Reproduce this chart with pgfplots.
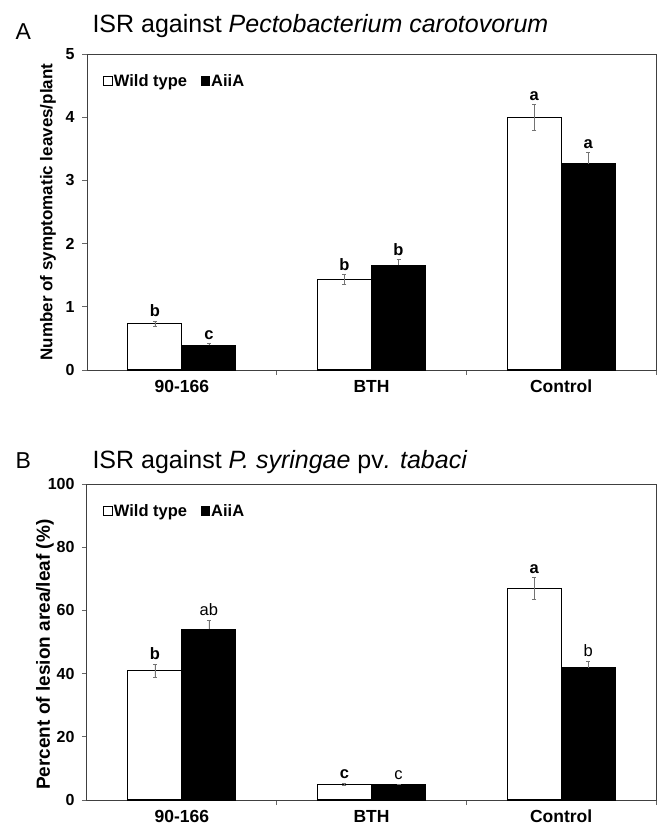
\documentclass[border=0pt]{standalone}
\usepackage{fontspec}
\setmainfont{Liberation Sans}
\usepackage{pgfplots}
\usepackage{pgfplotstable}
\pgfplotsset{compat=1.18}

\pgfplotstableread{
x wt wte wtl ai aie ail
0 0.73 0.04 b 0.39 0.03 c
1 1.43 0.08 b 1.66 0.09 b
2 4.00 0.20 a 3.26 0.18 a
}\dataA
\pgfplotstableread{
x wt wte wtl ai aie ail
0 41.0 2.1 b 54.0 2.9 ab
1 5.0 0.3 c 4.8 0.3 c
2 67.0 3.4 a 41.9 2.1 b
}\dataB

\pgfplotsset{
  panel/.style={
    scale only axis, width=569pt, height=316pt,
    xmin=-0.5, xmax=2.5, ymin=0,
    axis line style={line width=1pt, black!75},
    tick align=outside,
    xtick={0.5,1.5,2.5}, xticklabels={},
    xtick pos=bottom, ytick pos=left,
    major tick length=5pt,
    tick style={black!60, line width=0.7pt},
    extra x ticks={0,1,2},
    extra x tick labels={90-166,BTH,Control},
    extra x tick style={major tick length=0pt, xticklabel style={yshift=-6pt, text height=13pt, text depth=3pt}},
    xticklabel style={font=\bfseries\fontsize{17.5}{17.5}\selectfont},
    yticklabel style={font=\bfseries\fontsize{16}{16}\selectfont, xshift=-4pt},
    /pgf/number format/assume math mode=true,
    ylabel style={anchor=center},
    legend columns=2,
    legend style={draw=none, fill=none, inner sep=0pt, anchor=west,
      at={(0.028,0.915)},
      font=\bfseries\fontsize{16.5}{16.5}\selectfont,
      nodes={inner sep=1pt},
      /tikz/every even column/.append style={column sep=13pt}},
  },
  wtbar/.style={ybar, bar width=0.285, bar shift=0pt, fill=white, draw=black, line width=1.1pt,
    legend image code/.code={\draw[black, fill=white, line width=0.8pt] (0pt,-4.5pt) rectangle (9pt,4.5pt);},
    error bars/.cd, y dir=both, y explicit,
    error bar style={black!55, line width=0.6pt},
    error mark options={rotate=90, mark size=2pt, black!55, line width=0.6pt}},
  aibar/.style={ybar, bar width=0.285, bar shift=0pt, fill=black, draw=black, line width=1.1pt,
    legend image code/.code={\fill[black] (0pt,-4.5pt) rectangle (8pt,4.5pt);},
    error bars/.cd, y dir=plus, y explicit,
    error bar style={black!55, line width=0.6pt},
    error mark options={rotate=90, mark size=2pt, black!55, line width=0.6pt}},
  lab/.style={draw=none, mark=none, forget plot, nodes near coords, point meta=explicit symbolic,
    nodes near coords style={anchor=south, inner sep=0pt, yshift=4pt, font=#1\fontsize{16.5}{16.5}\selectfont}},
}

\begin{document}
\begin{tikzpicture}
\useasboundingbox (0,0) rectangle (669pt,-838pt);

\node[anchor=base west, font=\fontsize{23}{23}\selectfont] at (12pt,-39pt) {A};
\node[anchor=base west, font=\fontsize{25}{25}\selectfont] at (89pt,-32pt) {ISR against \textit{Pectobacterium carotovorum}};

\begin{axis}[panel, at={(87pt,-370pt)}, anchor=south west,
  ymax=5, ytick={0,1,2,3,4,5},
  ylabel={Number of symptomatic leaves/plant},
  ylabel style={font=\bfseries\fontsize{17}{17}\selectfont, at={(axis description cs:-0.0685,0.5)}}]
  \addplot[wtbar] table[x expr=\thisrow{x}-0.1425, y=wt, y error=wte]{\dataA};
  \addlegendentry{Wild type}
  \addplot[aibar] table[x expr=\thisrow{x}+0.1425, y=ai, y error=aie]{\dataA};
  \addlegendentry{AiiA}
  \addplot[lab=\bfseries] table[x expr=\thisrow{x}-0.1425, y expr=\thisrow{wt}+\thisrow{wte}, meta=wtl]{\dataA};
  \addplot[lab=\bfseries] table[x expr=\thisrow{x}+0.1425, y expr=\thisrow{ai}+\thisrow{aie}, meta=ail]{\dataA};
\end{axis}

\node[anchor=base west, font=\fontsize{23}{23}\selectfont] at (12pt,-468pt) {B};
\node[anchor=base west, font=\fontsize{25}{25}\selectfont] at (89pt,-468pt) {ISR against \textit{P. syringae} pv\textit{. tabaci}};

\begin{axis}[panel, at={(87pt,-800pt)}, anchor=south west,
  ymax=100, ytick={0,20,40,60,80,100},
  ylabel={Percent of lesion area/leaf (\%)},
  ylabel style={font=\bfseries\fontsize{19}{19}\selectfont, at={(axis description cs:-0.0738,0.46)}}]
  \addplot[wtbar] table[x expr=\thisrow{x}-0.1425, y=wt, y error=wte]{\dataB};
  \addlegendentry{Wild type}
  \addplot[aibar] table[x expr=\thisrow{x}+0.1425, y=ai, y error=aie]{\dataB};
  \addlegendentry{AiiA}
  \addplot[lab=\bfseries] table[x expr=\thisrow{x}-0.1425, y expr=\thisrow{wt}+\thisrow{wte}, meta=wtl]{\dataB};
  \addplot[lab=\mdseries] table[x expr=\thisrow{x}+0.1425, y expr=\thisrow{ai}+\thisrow{aie}, meta=ail]{\dataB};
\end{axis}
\end{tikzpicture}
\end{document}
